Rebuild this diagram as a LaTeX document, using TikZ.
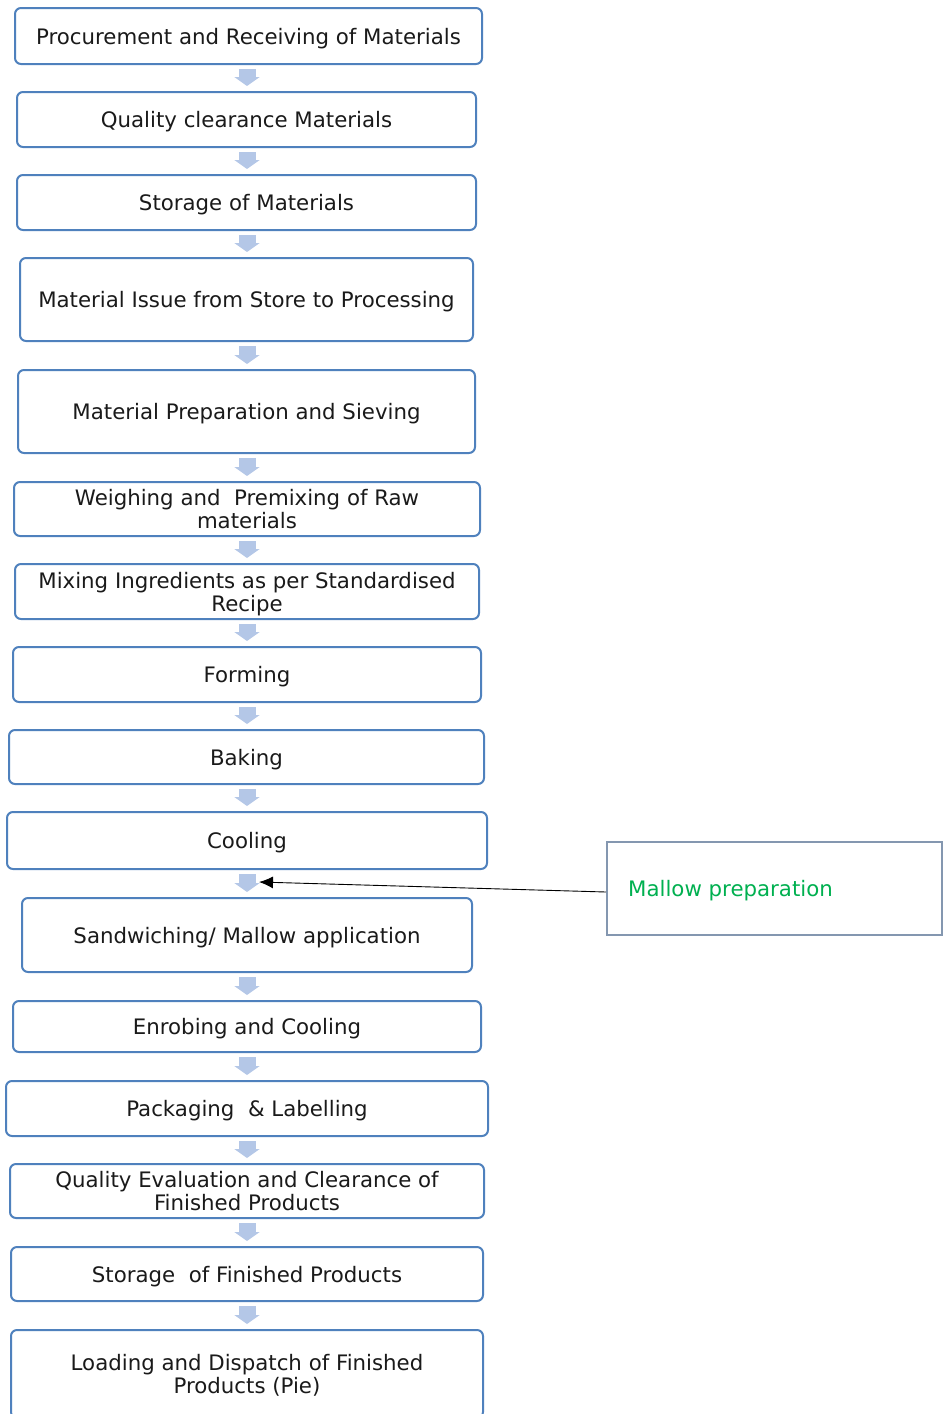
\documentclass[tikz,border=0pt]{standalone}
\usepackage{fontspec}
\setmainfont{DejaVu Sans}
\usetikzlibrary{arrows.meta,calc}
\definecolor{boxblue}{RGB}{79,129,189}
\definecolor{arrblue}{RGB}{180,199,231}
\definecolor{mallowgray}{RGB}{132,151,176}
\definecolor{mallowgreen}{RGB}{0,176,80}
\definecolor{txt}{RGB}{26,26,26}
\tikzset{
  stepbox/.style={draw=boxblue, line width=2pt, rounded corners=6pt, fill=white,
    inner sep=0pt, align=center, text=txt, text depth=0pt, font=\fontsize{21.3}{23}\selectfont},
  flowarrow/.style={draw=arrblue, line width=17pt, -{Triangle[width=25pt,length=9pt]},
    shorten <=4pt, shorten >=5pt},
  mallowbox/.style={draw=mallowgray, line width=2pt, fill=white, inner sep=0pt},
}
\begin{document}
\begin{tikzpicture}[x=1pt,y=1pt]
\useasboundingbox (0,0) rectangle (944,-1414);
\node[stepbox, minimum width=467pt, minimum height=56pt] (s1) at (248.5,-36) {Procurement and Receiving of Materials};
\node[stepbox, minimum width=459pt, minimum height=55pt] (s2) at (246.5,-119.5) {Quality clearance Materials};
\node[stepbox, minimum width=459pt, minimum height=55pt] (s3) at (246.5,-202.5) {Storage of Materials};
\node[stepbox, minimum width=453pt, minimum height=83pt] (s4) at (246.5,-299.5) {Material Issue from Store to Processing};
\node[stepbox, minimum width=457pt, minimum height=83pt] (s5) at (246.5,-411.5) {Material Preparation and Sieving};
\node[stepbox, minimum width=466pt, minimum height=54pt] (s6) at (247,-509) {Weighing and\ \ Premixing of Raw\\materials};
\node[stepbox, minimum width=464pt, minimum height=55pt] (s7) at (247,-591.5) {Mixing Ingredients as per Standardised\\Recipe};
\node[stepbox, minimum width=468pt, minimum height=55pt] (s8) at (247,-674.5) {Forming};
\node[stepbox, minimum width=475pt, minimum height=54pt] (s9) at (246.5,-757) {Baking};
\node[stepbox, minimum width=480pt, minimum height=57pt] (s10) at (247,-840.5) {Cooling};
\node[stepbox, minimum width=450pt, minimum height=74pt] (s11) at (247,-935) {Sandwiching/ Mallow application};
\node[stepbox, minimum width=468pt, minimum height=51pt] (s12) at (247,-1026.5) {Enrobing and Cooling};
\node[stepbox, minimum width=482pt, minimum height=55pt] (s13) at (247,-1108.5) {Packaging\ \ \& Labelling};
\node[stepbox, minimum width=474pt, minimum height=54pt] (s14) at (247,-1191) {Quality Evaluation and Clearance of\\Finished Products};
\node[stepbox, minimum width=472pt, minimum height=54pt] (s15) at (247,-1274) {Storage\ \ of Finished Products};
\node[stepbox, minimum width=472pt, minimum height=88pt] (s16) at (247,-1374) {Loading and Dispatch of Finished\\Products (Pie)};
\foreach \a/\b in {s1/s2,s2/s3,s3/s4,s4/s5,s5/s6,s6/s7,s7/s8,s8/s9,s9/s10,s10/s11,s11/s12,s12/s13,s13/s14,s14/s15,s15/s16}
  \draw[flowarrow] (\a.south -| 247,0) -- (\b.north -| 247,0);
\node[mallowbox, minimum width=335pt, minimum height=93pt] (m) at (774.5,-888.5) {};
\node[anchor=west, inner sep=0pt, text=mallowgreen, font=\fontsize{21.3}{23}\selectfont] (mt) at (628,-890.5) {Mallow preparation};
\coordinate (mtip) at (259,-882);
\draw[line width=0.9pt, -{Latex[length=14pt,width=12pt]}] ($(m.west)+(0,-3.5)$) -- (mtip);
\end{tikzpicture}
\end{document}
